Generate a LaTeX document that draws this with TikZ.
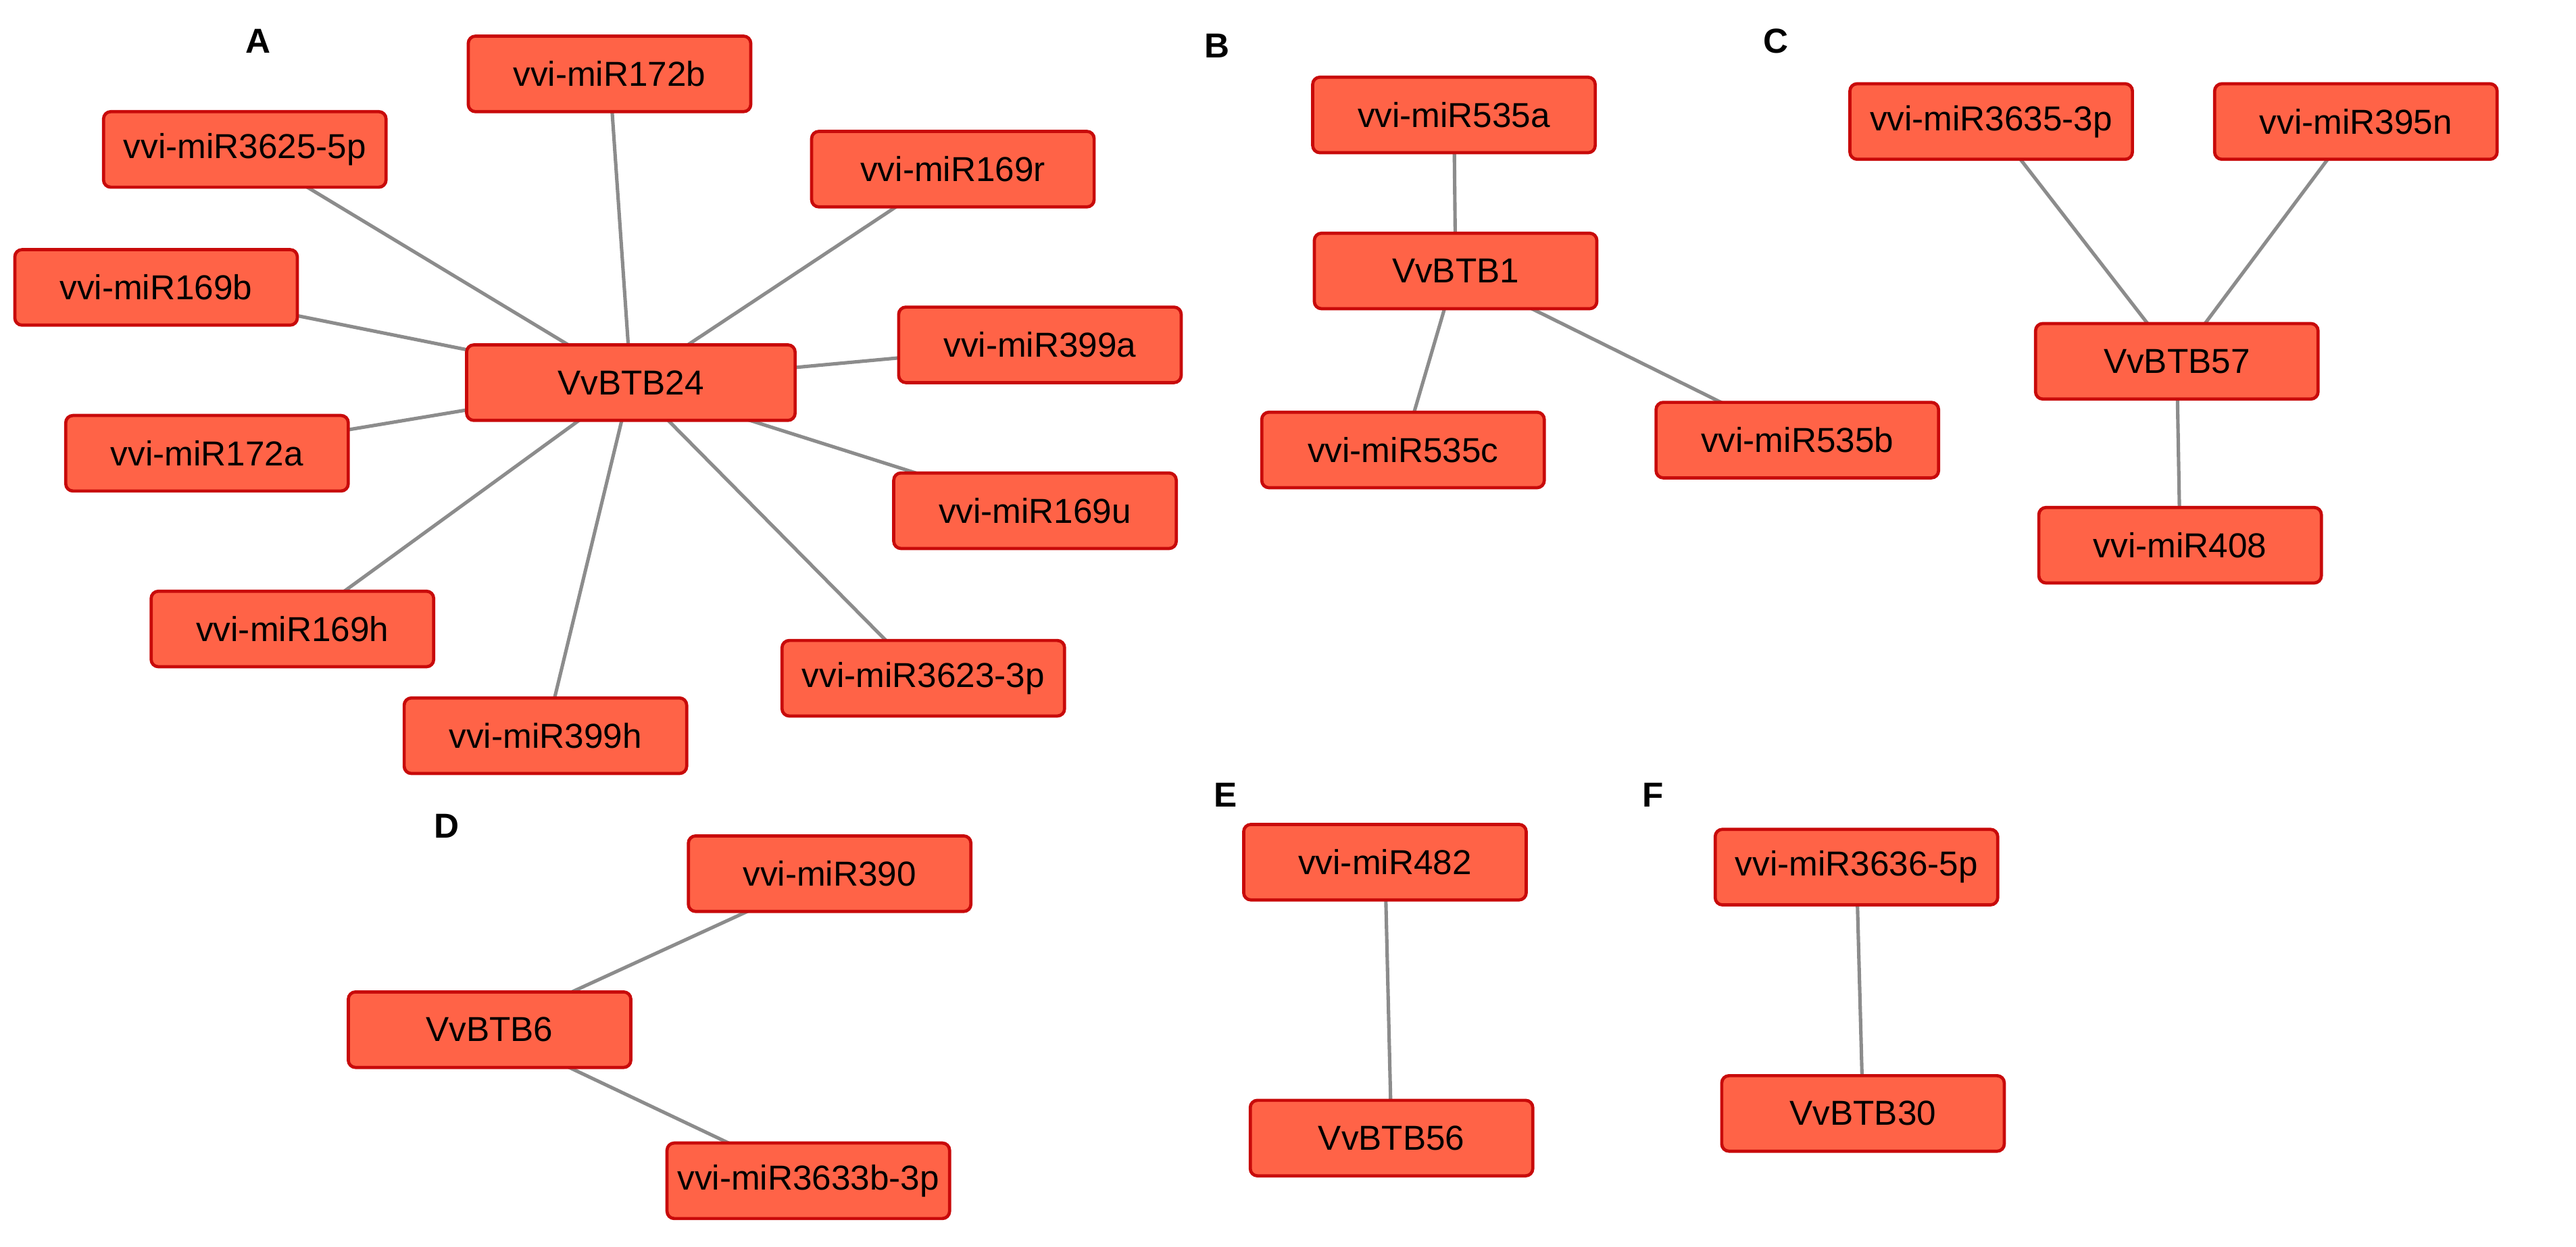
\documentclass[tikz,border=0pt]{standalone}
\usepackage{fontspec}
\setmainfont{Liberation Sans}
\usetikzlibrary{backgrounds}
\definecolor{mirfill}{RGB}{255,99,71}
\definecolor{mirdraw}{RGB}{200,10,10}
\begin{document}
\begin{tikzpicture}
		[x=0.02cm,y=-0.02cm,
		mirna/.style= {minimum width=3.44cm,minimum height=0.92cm,rounded corners=2.5pt,line width=1.1pt,draw=mirdraw,fill=mirfill,font=\fontsize{12}{14}\selectfont,inner sep=0pt},
		gene/.style= {mirna},
		link/.style={line width=1.2pt,draw=black!45},
		panel/.style={font=\bfseries\fontsize{12}{14}\selectfont}]
		
		\useasboundingbox (0,0) rectangle (1568,759);
		
		% A
		\node[panel] (labA) at (157,25) {A};
		\node[gene,minimum width=4cm] (btb24) at (384,233) {VvBTB24};
		\node[mirna] (m172b) at (371,45) {vvi-miR172b};
		\node[mirna] (m3625) at (149,91) {vvi-miR3625-5p};
		\node[mirna] (m169r) at (580,103) {vvi-miR169r};
		\node[mirna] (m169b) at (95,175) {vvi-miR169b};
		\node[mirna] (m399a) at (633,210) {vvi-miR399a};
		\node[mirna] (m172a) at (126,276) {vvi-miR172a};
		\node[mirna] (m169u) at (630,311) {vvi-miR169u};
		\node[mirna] (m169h) at (178,383) {vvi-miR169h};
		\node[mirna] (m3623) at (562,413) {vvi-miR3623-3p};
		\node[mirna] (m399h) at (332,448) {vvi-miR399h};
		
		% B
		\node[panel] (labB) at (741,28) {B};
		\node[gene] (btb1) at (886,165) {VvBTB1};
		\node[mirna] (m535a) at (885,70) {vvi-miR535a};
		\node[mirna] (m535c) at (854,274) {vvi-miR535c};
		\node[mirna] (m535b) at (1094,268) {vvi-miR535b};
		
		% C
		\node[panel] (labC) at (1081,25) {C};
		\node[gene] (btb57) at (1325,220) {VvBTB57};
		\node[mirna] (m3635) at (1212,74) {vvi-miR3635-3p};
		\node[mirna] (m395n) at (1434,74) {vvi-miR395n};
		\node[mirna] (m408) at (1327,332) {vvi-miR408};
		
		% D
		\node[panel] (labD) at (272,503) {D};
		\node[gene] (btb6) at (298,627) {VvBTB6};
		\node[mirna] (m390) at (505,532) {vvi-miR390};
		\node[mirna] (m3633) at (492,719) {vvi-miR3633b-3p};
		
		% E
		\node[panel] (labE) at (746,484) {E};
		\node[mirna] (m482) at (843,525) {vvi-miR482};
		\node[gene] (btb56) at (847,693) {VvBTB56};
		
		% F
		\node[panel] (labF) at (1006,484) {F};
		\node[mirna] (m3636) at (1130,528) {vvi-miR3636-5p};
		\node[gene] (btb30) at (1134,678) {VvBTB30};
		
		\begin{pgfonlayer}{background}
			\foreach \m in {m172b,m3625,m169r,m169b,m399a,m172a,m169u,m169h,m3623,m399h}
				\draw[link] (btb24.center) -- (\m.center);
			\foreach \m in {m535a,m535c,m535b}
				\draw[link] (btb1.center) -- (\m.center);
			\foreach \m in {m3635,m395n,m408}
				\draw[link] (btb57.center) -- (\m.center);
			\foreach \m in {m390,m3633}
				\draw[link] (btb6.center) -- (\m.center);
			\draw[link] (btb56.center) -- (m482.center);
			\draw[link] (btb30.center) -- (m3636.center);
		\end{pgfonlayer}
		
	\end{tikzpicture}
\end{document}
